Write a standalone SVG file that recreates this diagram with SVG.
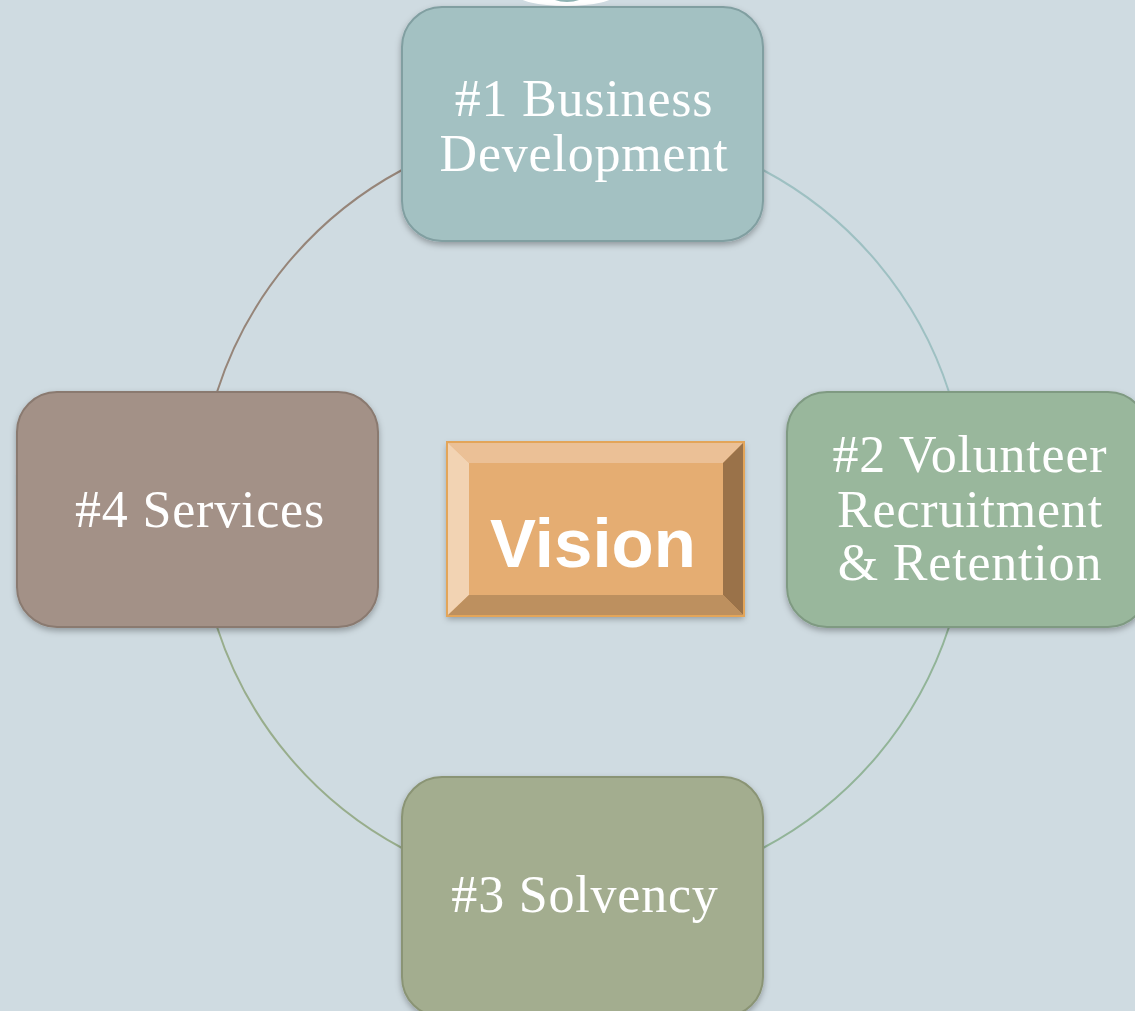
<svg xmlns="http://www.w3.org/2000/svg" width="1135" height="1011" viewBox="0 0 1135 1011">
<defs>
<filter id="sh" x="-10%" y="-10%" width="120%" height="130%">
<feDropShadow dx="0" dy="3" stdDeviation="3" flood-color="#000" flood-opacity="0.3"/>
</filter>
<style>
.lbl{font-family:"Liberation Serif","Times New Roman",serif;font-size:52px;letter-spacing:0.8px;fill:#ffffff;text-anchor:middle}
.node{stroke-width:2}
.arc{fill:none;stroke-width:2}
</style>
</defs>
<rect width="1135" height="1011" fill="#cfdbe1"/>
<g id="top-fragment">
<ellipse cx="566" cy="-6" rx="50" ry="12" fill="#ffffff"/>
<ellipse cx="567" cy="-8" rx="20" ry="10" fill="#8fb3b3"/>
</g>
<g id="connectors">
<path class="arc" stroke="#9ec0c2" d="M763 170 A385 385 0 0 1 949 392"/>
<path class="arc" stroke="#92b498" d="M949 627 A385 385 0 0 1 763 848"/>
<path class="arc" stroke="#98ad8c" d="M402 848 A385 385 0 0 1 217 627"/>
<path class="arc" stroke="#968579" d="M217 392 A385 385 0 0 1 402 170"/>
</g>
<g id="node1">
<rect class="node" x="402" y="7" width="361" height="234" rx="40" fill="#a3c1c2" stroke="#819fa1" filter="url(#sh)"/>
<text class="lbl" x="584" y="116">#1 Business</text>
<text class="lbl" x="584" y="171">Development</text>
</g>
<g id="node2">
<rect class="node" x="787" y="392" width="361" height="235" rx="40" fill="#99b79c" stroke="#7f9a82" filter="url(#sh)"/>
<text class="lbl" x="970" y="472">#2 Volunteer</text>
<text class="lbl" x="970" y="527">Recruitment</text>
<text class="lbl" x="970" y="580">&amp; Retention</text>
</g>
<g id="node3">
<rect class="node" x="402" y="777" width="361" height="240" rx="40" fill="#a3ad8f" stroke="#8a9474" filter="url(#sh)"/>
<text class="lbl" x="585" y="912">#3 Solvency</text>
</g>
<g id="node4">
<rect class="node" x="17" y="392" width="361" height="235" rx="40" fill="#a39187" stroke="#8a7a70" filter="url(#sh)"/>
<text class="lbl" x="200" y="527">#4 Services</text>
</g>
<g id="vision">
<g filter="url(#sh)">
<rect x="447" y="442" width="297" height="174" fill="#e5ad72"/>
</g>
<polygon points="447,442 744,442 723,463 469,463" fill="#ebc096"/>
<polygon points="447,442 469,463 469,595 447,616" fill="#f2d3b3"/>
<polygon points="744,442 744,616 723,595 723,463" fill="#9a7249"/>
<polygon points="447,616 469,595 723,595 744,616" fill="#bd905f"/>
<rect x="469" y="463" width="254" height="132" fill="#e5ad72"/>
<rect x="447" y="442" width="297" height="174" fill="none" stroke="#e3a559" stroke-width="2"/>
<text x="593" y="567" font-family="Liberation Sans, Arial, sans-serif" font-weight="bold" font-size="69" fill="#ffffff" text-anchor="middle">Vision</text>
</g>
</svg>
